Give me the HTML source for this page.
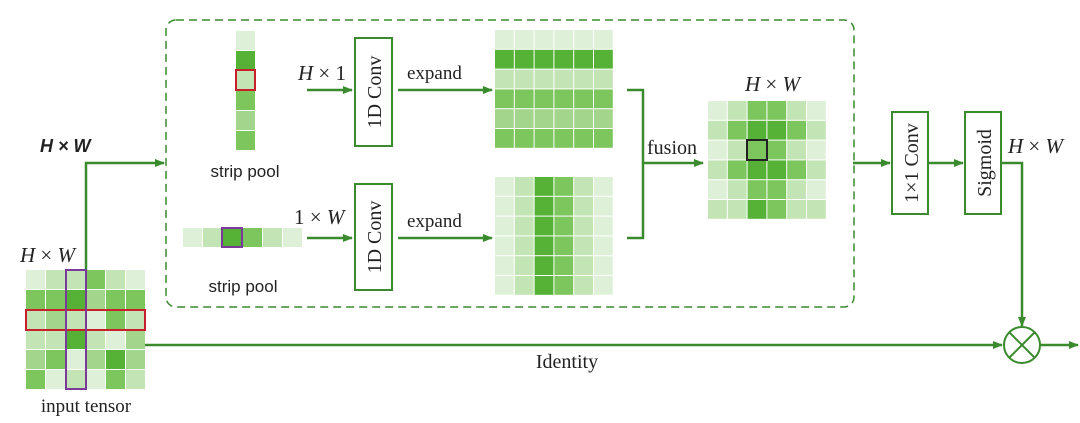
<!DOCTYPE html>
<html><head><meta charset="utf-8"><style>
html,body{margin:0;padding:0;background:#fff;}
svg{display:block}
.s{font-family:"Liberation Serif",serif;fill:#222}
.a{font-family:"Liberation Sans",sans-serif;fill:#222}
</style></head><body>
<svg width="1080" height="423" viewBox="0 0 1080 423" xmlns="http://www.w3.org/2000/svg">
<defs>
<marker id="ar" markerWidth="10" markerHeight="10" refX="9" refY="5" orient="auto" markerUnits="userSpaceOnUse">
<path d="M0,1 L10,5 L0,9 Z" fill="#3a8a2e"/></marker>
</defs>
<g id="grids"></g>
<!-- dashed box -->
<rect x="166" y="20" width="688" height="287" rx="10" fill="none" stroke="#3a8a2e" stroke-width="1.5" stroke-dasharray="8,5"/>
<g stroke="#3a8a2e" stroke-width="2.5" fill="none">
<polyline points="86,270 86,163 164,163" marker-end="url(#ar)"/>
<line x1="145" y1="345" x2="1002" y2="345" marker-end="url(#ar)"/>
<line x1="1040" y1="345" x2="1078" y2="345" marker-end="url(#ar)"/>
<line x1="307" y1="90" x2="352" y2="90" marker-end="url(#ar)"/>
<line x1="307" y1="238" x2="352" y2="238" marker-end="url(#ar)"/>
<line x1="398" y1="90" x2="492" y2="90" marker-end="url(#ar)"/>
<line x1="398" y1="238" x2="492" y2="238" marker-end="url(#ar)"/>
<polyline points="627,90 643,90 643,238 627,238"/>
<line x1="643" y1="163" x2="703" y2="163" marker-end="url(#ar)"/>
<line x1="853" y1="163" x2="890" y2="163" marker-end="url(#ar)"/>
<line x1="928" y1="163" x2="963" y2="163" marker-end="url(#ar)"/>
<polyline points="1001,163 1022,163 1022,326" marker-end="url(#ar)"/>
</g>
<g stroke="#3a8a2e" stroke-width="2" fill="#fff">
<rect x="355" y="38" width="37" height="108"/>
<rect x="355" y="184" width="37" height="106"/>
<rect x="892" y="112" width="36" height="102"/>
<rect x="965" y="112" width="36" height="102"/>
<circle cx="1022" cy="345" r="18"/>
<line x1="1009" y1="332" x2="1035" y2="358"/>
<line x1="1035" y1="332" x2="1009" y2="358"/>
</g>
<g class="s" font-size="20">
<text transform="translate(381,92) rotate(-90)" text-anchor="middle">1D Conv</text>
<text transform="translate(381,237) rotate(-90)" text-anchor="middle">1D Conv</text>
<text transform="translate(918,163) rotate(-90)" text-anchor="middle">1×1 Conv</text>
<text transform="translate(991,163) rotate(-90)" text-anchor="middle">Sigmoid</text>
<text x="298" y="80" font-size="21"><tspan font-style="italic">H</tspan> × 1</text>
<text x="294" y="224" font-size="21">1 × <tspan font-style="italic">W</tspan></text>
<text x="407" y="79" font-size="19">expand</text>
<text x="407" y="227" font-size="19">expand</text>
<text x="647" y="154" font-size="20">fusion</text>
<text x="745" y="91" font-size="21" font-style="italic">H <tspan font-style="normal">×</tspan> W</text>
<text x="1008" y="153" font-size="21" font-style="italic">H <tspan font-style="normal">×</tspan> W</text>
<text x="20" y="262" font-size="21" font-style="italic">H <tspan font-style="normal">×</tspan> W</text>
<text x="567" y="368" font-size="20" text-anchor="middle">Identity</text>
<text x="86" y="412" font-size="19" text-anchor="middle">input tensor</text>
</g>
<g class="a" font-size="17">
<text x="245" y="177" text-anchor="middle">strip pool</text>
<text x="243" y="292" text-anchor="middle">strip pool</text>
<text x="40" y="152" font-style="italic" font-weight="bold" font-size="18">H × W</text>
</g>
<g id="over" fill="none" stroke-width="2"></g>
</svg>
<script>
var C={L:"#dff0d8",c:"#c3e4b4",a:"#a3d68c",7:"#7dc65e",5:"#55b236"};
var g=document.getElementById("grids"),ns="http://www.w3.org/2000/svg";
function grid(x,y,rows,cs){rows.forEach(function(r,i){r.split("").forEach(function(k,j){var e=document.createElementNS(ns,"rect");e.setAttribute("x",x+j*cs);e.setAttribute("y",y+i*cs);e.setAttribute("width",cs-1);e.setAttribute("height",cs-1);e.setAttribute("fill",C[k]);g.appendChild(e);});});}
grid(26,270,["Lcc7cL","775a77","cacL7c","cc5cLa","a7La5a","7LcL7c"],20);
grid(236,31,["L","5","c","7","a","7"],20);
grid(183,228,["Lc57cL"],20);
grid(495,30,["LLLLLL","555555","cccccc","777777","aaaaaa","777777"],19.8);
grid(495,177,["Lc57cL","Lc57cL","Lc57cL","Lc57cL","Lc57cL","Lc57cL"],19.8);
grid(708,101,["Lc77cL","c7557c","Lc77cL","c7557c","Lc77cL","cc57cc"],19.8);
var o=document.getElementById("over");
function R(x,y,w,h,c){var e=document.createElementNS(ns,"rect");e.setAttribute("x",x);e.setAttribute("y",y);e.setAttribute("width",w);e.setAttribute("height",h);e.setAttribute("stroke",c);o.appendChild(e);}
R(26,310,119,20,"#c8202a");R(66,270,20,119,"#7b3a9a");
R(236,70,19,20,"#c8202a");R(222,228,20,19,"#7b3a9a");R(747,140,20,20,"#222");
</script>
</body></html>
